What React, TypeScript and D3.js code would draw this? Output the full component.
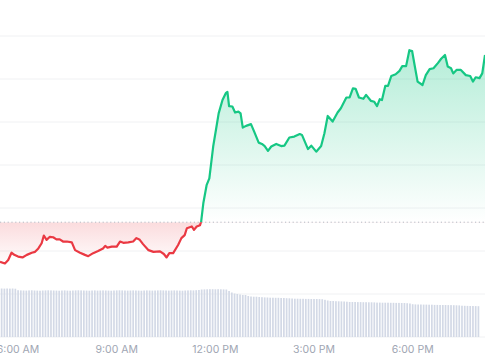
import React from "react";
import * as d3 from "d3";

const W = 485;
const H = 360;

// Price series (time of day, price)
const priceTimes = [
  "05:27","05:36","05:42","05:48","05:53","06:00","06:08","06:16","06:25","06:31",
  "06:37","06:43","06:47","06:52","06:58","07:04","07:10","07:16","07:22","07:29",
  "07:38","07:44","07:53","08:02","08:08","08:17","08:26","08:35","08:39","08:43",
  "08:51","09:00","09:06","09:12","09:21","09:30","09:36","09:42","09:48","09:58",
  "10:07","10:19","10:26","10:31","10:36","10:43","10:52","10:58","11:04","11:08",
  "11:17","11:21","11:26","11:32","11:34","11:38","11:44","11:49","11:56","12:02",
  "12:06","12:13","12:19","12:22","12:25","12:31","12:36","12:42","12:46","12:50",
  "12:56","13:05","13:11","13:19","13:25","13:30","13:36","13:42","13:51","14:00",
  "14:06","14:15","14:24","14:34","14:38","14:49","14:55","15:04","15:13","15:19",
  "15:25","15:34","15:43","15:49","15:59","16:05","16:11","16:16","16:22","16:30",
  "16:35","16:44","16:50","16:55","17:00","17:04","17:10","17:15","17:21","17:29",
  "17:36","17:41","17:48","17:54","17:59","18:04","18:09","18:18","18:24","18:31",
  "18:38","18:46","18:52","18:59","19:04","19:10","19:14","19:20","19:28","19:37",
  "19:45","19:50","19:55","20:02","20:07","20:12"
];
const priceValues = [
  100.75,100.71,100.79,100.96,100.91,100.87,100.85,100.91,100.96,100.98,
  101.06,101.18,101.36,101.26,101.33,101.32,101.27,101.27,101.22,101.22,
  101.20,101.02,100.96,100.91,100.88,100.95,101.00,101.06,101.12,101.08,
  101.10,101.10,101.22,101.19,101.20,101.22,101.30,101.26,101.16,101.02,
  100.98,100.99,100.93,100.85,100.95,100.95,101.14,101.30,101.37,101.53,
  101.57,101.49,101.57,101.60,101.68,102.11,102.53,102.69,103.43,103.89,
  104.20,104.51,104.67,104.70,104.37,104.36,104.22,104.24,104.20,103.87,
  103.91,103.95,103.77,103.52,103.49,103.44,103.33,103.43,103.49,103.44,
  103.45,103.64,103.66,103.72,103.70,103.37,103.45,103.31,103.44,103.74,
  104.14,104.01,104.22,104.32,104.57,104.57,104.78,104.77,104.57,104.54,
  104.63,104.49,104.47,104.37,104.53,104.51,104.84,104.84,105.07,105.11,
  105.19,105.30,105.30,105.67,105.65,105.29,104.94,104.86,105.09,105.23,
  105.25,105.37,105.47,105.56,105.29,105.25,105.13,105.21,105.21,105.09,
  105.07,104.94,105.04,105.02,105.13,105.56
];
const baselinePrice = 101.67;
const gridPrices = [99, 100, 101, 102, 103, 104, 105, 106];

// Volume bars every 5 minutes from 05:25
const volumeStart = "05:25";
const volumeStepMinutes = 5;
const volumeValues = [
  485,485,484,485,484,485,483,468,466,465,
  464,466,467,465,464,463,465,466,467,466,
  465,464,463,465,466,464,463,465,466,467,
  466,465,464,463,465,466,464,465,466,465,
  464,463,465,466,467,466,465,464,465,466,
  465,464,463,465,466,465,464,465,466,467,
  466,465,464,465,466,465,464,463,465,466,
  467,466,468,470,475,476,477,478,478,477,
  478,477,476,475,460,445,435,430,425,420,
  420,410,405,403,403,400,398,396,395,393,
  393,392,392,390,390,388,387,385,383,383,
  382,382,381,381,380,380,380,379,378,372,
  365,360,360,358,357,356,355,353,350,350,
  350,349,349,348,348,347,347,346,344,344,
  343,343,343,342,342,341,341,340,340,338,
  335,328,326,325,325,324,324,323,323,321,
  321,320,320,320,319,319,318,317,316,313,
  312,311,310,310,309,308
];

const tickTimes = ["06:00", "09:00", "12:00", "15:00", "18:00"];
const tickLabels = ["6:00 AM", "9:00 AM", "12:00 PM", "3:00 PM", "6:00 PM"];

const parseTime = d3.timeParse("%H:%M");

export default function App() {
  const x = d3
    .scaleTime()
    .domain([parseTime("05:27") as Date, parseTime("20:12") as Date])
    .range([0, W]);
  const y = d3.scaleLinear().domain([100, 106]).range([294, 36]);
  const v = d3.scaleLinear().domain([0, 480]).range([337, 289]);

  const points = priceTimes.map((t, i) => ({
    t: parseTime(t) as Date,
    p: priceValues[i],
  }));
  const yBase = y(baselinePrice);

  const line = d3
    .line<{ t: Date; p: number }>()
    .x((d) => x(d.t))
    .y((d) => y(d.p));
  const area = d3
    .area<{ t: Date; p: number }>()
    .x((d) => x(d.t))
    .y0(yBase)
    .y1((d) => y(d.p));

  const start = parseTime(volumeStart) as Date;
  const bars = volumeValues.map((val, i) => ({
    t: d3.timeMinute.offset(start, i * volumeStepMinutes),
    val,
  }));
  const step = x(d3.timeMinute.offset(start, volumeStepMinutes)) - x(start);
  const barW = step * 0.62;

  const linePath = line(points) || "";
  const areaPath = area(points) || "";
  const yTop = y(d3.max(priceValues) as number);
  const yLow = y(d3.min(priceValues) as number);

  return (
    <svg
      width={W}
      height={H}
      style={{ position: "absolute", left: 0, top: 0, display: "block" }}
      xmlns="http://www.w3.org/2000/svg"
    >
      <defs>
        <clipPath id="above">
          <rect x={0} y={0} width={W} height={yBase} />
        </clipPath>
        <clipPath id="below">
          <rect x={0} y={yBase} width={W} height={H - yBase} />
        </clipPath>
        <linearGradient id="gGreen" gradientUnits="userSpaceOnUse" x1={0} x2={0} y1={yTop} y2={yBase}>
          <stop offset="0%" stopColor="#16c784" stopOpacity={0.32} />
          <stop offset="100%" stopColor="#16c784" stopOpacity={0.0} />
        </linearGradient>
        <linearGradient id="gRed" gradientUnits="userSpaceOnUse" x1={0} x2={0} y1={yBase} y2={yLow}>
          <stop offset="0%" stopColor="#ea3943" stopOpacity={0.18} />
          <stop offset="100%" stopColor="#ea3943" stopOpacity={0.01} />
        </linearGradient>
      </defs>
      <rect x={0} y={0} width={W} height={H} fill="#ffffff" />
      {gridPrices.map((g) => (
        <line key={g} x1={0} x2={W} y1={y(g)} y2={y(g)} stroke="#f0f1f3" strokeWidth={1} />
      ))}
      {bars.map((b, i) => (
        <rect
          key={i}
          x={x(b.t) - barW / 2}
          y={v(b.val)}
          width={barW}
          height={v(0) - v(b.val)}
          fill="#d3d9e6"
        />
      ))}
      <path d={areaPath} fill="url(#gGreen)" clipPath="url(#above)" />
      <path d={areaPath} fill="url(#gRed)" clipPath="url(#below)" />
      <line
        x1={0}
        x2={W}
        y1={yBase}
        y2={yBase}
        stroke="#b3b8c2"
        strokeWidth={1}
        strokeDasharray="1.2 2.6"
      />
      <path d={linePath} fill="none" stroke="#16c784" strokeWidth={2.2} strokeLinejoin="round" clipPath="url(#above)" />
      <path d={linePath} fill="none" stroke="#ea3943" strokeWidth={2.2} strokeLinejoin="round" clipPath="url(#below)" />
      {tickTimes.map((t, i) => (
        <text
          key={t}
          x={x(parseTime(t) as Date)}
          y={352.5}
          textAnchor="middle"
          fontFamily="Inter, 'Noto Sans', sans-serif"
          fontSize={10.5}
          fill="#a0a6b3"
        >
          {tickLabels[i]}
        </text>
      ))}
    </svg>
  );
}
